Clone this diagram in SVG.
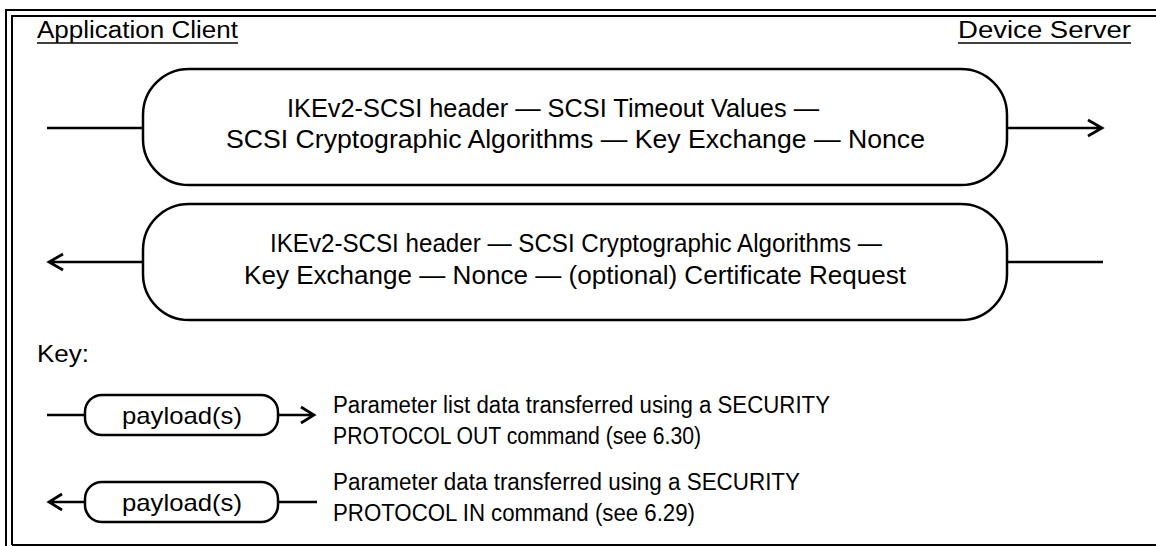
<svg xmlns="http://www.w3.org/2000/svg" width="1156" height="546" viewBox="0 0 1156 546">
<style>
.t{font-family:"Liberation Sans",Arial,sans-serif;fill:#000}
.big{font-size:25px}
.lbl{font-size:23px}
.pl{font-size:24px}
.box{fill:#fff;stroke:#000;stroke-width:2.5}
.ln{fill:none;stroke:#000;stroke-width:2.7}
.frame{fill:none;stroke:#000;stroke-width:2}
</style>
<rect width="1156" height="546" fill="#fff"/>
<g id="frame">
<path class="frame" d="M6 560 V10 H1170"/>
<path class="frame" d="M12 545 V16 H1170 M12 545 H1170"/>
</g>
<g id="headers">
<text class="t lbl" x="37" y="38" textLength="201" lengthAdjust="spacingAndGlyphs">Application Client</text>
<line x1="37" y1="43" x2="238" y2="43" stroke="#000" stroke-width="1.6"/>
<text class="t lbl" x="958" y="38" textLength="173" lengthAdjust="spacingAndGlyphs">Device Server</text>
<line x1="958" y1="43" x2="1131" y2="43" stroke="#000" stroke-width="1.6"/>
</g>
<g id="connectors">
<path class="ln" d="M47 128 H143"/>
<path class="ln" d="M1007 128 H1102 M1088 120 L1102 128 L1088 136"/>
<path class="ln" d="M1007 262 H1103"/>
<path class="ln" d="M143 262 H49 M63 254 L49 262 L63 270"/>
<path class="ln" d="M47 415 H85"/>
<path class="ln" d="M278 415 H314 M301 407 L314 415 L301 423"/>
<path class="ln" d="M85 502 H49 M62 494 L49 502 L62 510"/>
<path class="ln" d="M278 502 H317"/>
</g>
<g id="msg1">
<rect class="box" x="143" y="69" width="864" height="116" rx="46" ry="46"/>
<text class="t big" x="287" y="117" textLength="532" lengthAdjust="spacingAndGlyphs">IKEv2-SCSI header — SCSI Timeout Values —</text>
<text class="t big" x="226" y="148" textLength="699" lengthAdjust="spacingAndGlyphs">SCSI Cryptographic Algorithms — Key Exchange — Nonce</text>
</g>
<g id="msg2">
<rect class="box" x="143" y="204" width="864" height="116" rx="46" ry="46"/>
<text class="t big" x="270" y="252" textLength="612" lengthAdjust="spacingAndGlyphs">IKEv2-SCSI header — SCSI Cryptographic Algorithms —</text>
<text class="t big" x="244" y="284" textLength="662" lengthAdjust="spacingAndGlyphs">Key Exchange — Nonce — (optional) Certificate Request</text>
</g>
<g id="key">
<text class="t lbl" x="37" y="362" textLength="52" lengthAdjust="spacingAndGlyphs">Key:</text>
</g>
<g id="key-out">
<rect class="box" x="85" y="395" width="193" height="40" rx="17" ry="17"/>
<text class="t pl" x="122" y="424" textLength="120" lengthAdjust="spacingAndGlyphs">payload(s)</text>
<text class="t lbl" x="333" y="413" textLength="497" lengthAdjust="spacingAndGlyphs">Parameter list data transferred using a SECURITY</text>
<text class="t lbl" x="333" y="444" textLength="368" lengthAdjust="spacingAndGlyphs">PROTOCOL OUT command (see 6.30)</text>
</g>
<g id="key-in">
<rect class="box" x="85" y="482" width="193" height="40" rx="17" ry="17"/>
<text class="t pl" x="122" y="511" textLength="120" lengthAdjust="spacingAndGlyphs">payload(s)</text>
<text class="t lbl" x="333" y="490" textLength="467" lengthAdjust="spacingAndGlyphs">Parameter data transferred using a SECURITY</text>
<text class="t lbl" x="333" y="521" textLength="362" lengthAdjust="spacingAndGlyphs">PROTOCOL IN command (see 6.29)</text>
</g>
</svg>
